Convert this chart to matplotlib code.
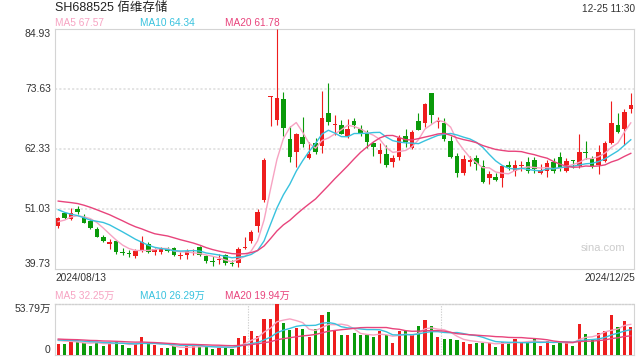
import numpy as np
import pandas as pd
import matplotlib
matplotlib.use("Agg")
import matplotlib.pyplot as plt

plt.rcParams['font.family'] = ['Liberation Sans', 'Noto Sans CJK SC', 'DejaVu Sans']

# ---------------- data ----------------
title = "SH688525 佰维存储"
timestamp = "12-25 11:30"
start_label = "2024/08/13"
end_label = "2024/12/25"

opens = [47.94, 50.39, 49.26, 51.08, 49.64, 48.89, 47.32, 45.87, 44.44, 45.06,
         42.95, 42.80, 42.23, 43.23, 44.44, 42.93, 42.99, 43.50, 43.68, 42.20,
         42.42, 42.90, 43.87, 42.27, 41.25, 41.50, 42.37, 40.93, 40.86, 43.70,
         45.12, 47.92, 52.86, 72.20, 67.85, 71.80, 64.27, 61.88, 64.70, 60.75,
         63.46, 63.00, 69.23, 66.90, 66.90, 64.89, 67.60, 66.10, 65.21, 63.46,
         61.50, 61.45, 59.99, 60.94, 64.84, 62.63, 67.66, 67.34, 72.99, 67.50,
         67.23, 63.95, 61.07, 57.92, 60.00, 60.63, 59.18, 56.98, 57.17, 56.98,
         59.37, 58.30, 59.20, 60.00, 60.30, 57.92, 58.30, 60.00, 60.84, 58.30,
         60.30, 59.18, 61.88, 60.50, 59.37, 60.18, 63.57, 66.91, 66.15, 69.92]
highs = [49.64, 50.60, 51.22, 51.65, 50.14, 49.20, 47.64, 46.20, 45.44, 45.20,
         43.80, 43.40, 43.60, 46.06, 44.93, 43.80, 43.87, 43.90, 43.90, 42.90,
         43.60, 43.60, 44.10, 42.50, 42.20, 42.60, 42.60, 41.50, 43.99, 45.75,
         47.13, 51.08, 60.70, 72.43, 84.93, 73.18, 66.70, 65.40, 68.36, 63.65,
         64.40, 73.37, 74.76, 68.80, 67.90, 68.04, 68.30, 66.90, 66.00, 63.76,
         63.46, 63.14, 61.20, 65.02, 66.10, 65.90, 69.23, 70.99, 72.99, 68.50,
         68.23, 64.80, 61.58, 61.20, 61.00, 61.30, 60.30, 58.23, 57.90, 59.37,
         60.10, 60.30, 60.10, 60.80, 60.90, 59.60, 60.30, 60.60, 61.88, 60.60,
         60.35, 65.21, 63.95, 61.00, 63.14, 63.90, 71.48, 69.23, 69.86, 72.99]
lows = [47.60, 49.20, 49.00, 50.14, 48.50, 47.40, 45.76, 44.90, 43.61, 42.70,
        42.37, 42.10, 41.90, 43.00, 42.80, 42.50, 42.60, 42.90, 42.20, 41.60,
        41.60, 42.40, 42.20, 40.90, 40.40, 40.80, 40.60, 40.30, 40.16, 43.60,
        44.63, 46.70, 52.39, 66.78, 66.91, 64.90, 59.99, 59.05, 62.82, 60.50,
        61.50, 61.58, 66.91, 64.98, 65.20, 64.40, 66.30, 64.80, 62.50, 61.07,
        59.70, 59.05, 59.00, 60.32, 62.80, 62.30, 65.97, 66.59, 67.23, 66.30,
        63.95, 60.60, 57.06, 57.50, 59.20, 58.50, 55.93, 55.86, 56.40, 55.17,
        58.40, 57.30, 58.30, 57.90, 57.80, 57.60, 57.20, 57.90, 58.20, 58.00,
        58.80, 58.75, 60.43, 58.90, 57.68, 59.90, 63.33, 65.34, 63.14, 69.10]
closes = [49.33, 49.45, 50.28, 50.52, 48.51, 47.56, 45.87, 45.06, 44.81, 42.93,
          42.80, 42.60, 43.23, 44.81, 42.99, 43.55, 43.68, 43.20, 42.48, 42.37,
          43.18, 43.00, 42.42, 41.20, 41.10, 41.65, 40.97, 40.67, 43.55, 43.90,
          46.81, 50.55, 60.39, 72.43, 71.93, 66.40, 60.94, 65.16, 63.27, 61.45,
          61.82, 68.23, 67.53, 67.10, 65.30, 66.15, 67.00, 65.27, 63.65, 62.82,
          62.14, 59.37, 60.75, 64.52, 63.76, 65.65, 65.97, 70.81, 68.73, 67.70,
          64.33, 60.94, 57.81, 60.50, 60.30, 59.50, 56.23, 57.68, 56.55, 59.18,
          58.94, 59.37, 59.35, 58.30, 58.57, 58.43, 59.80, 58.30, 58.80, 60.18,
          60.20, 61.88, 61.58, 59.18, 61.88, 63.57, 67.34, 65.65, 69.30, 70.67]
# volumes in 万 shares
volumes = [11.5, 11.5, 15.1, 13.6, 12.6, 10.0, 14.3, 10.0, 13.6, 13.6,
           10.8, 7.9, 11.5, 19.4, 11.5, 10.8, 7.9, 7.9, 9.3, 5.4,
           10.0, 10.0, 9.3, 10.0, 6.5, 7.9, 7.9, 6.5, 17.9, 19.7,
           25.8, 20.4, 37.7, 38.7, 53.79, 34.4, 26.9, 28.7, 28.0, 18.6,
           28.0, 42.0, 45.2, 26.9, 21.5, 21.5, 23.7, 20.8, 21.5, 18.6,
           25.8, 20.8, 12.9, 25.8, 25.1, 20.8, 30.5, 36.9, 30.5, 18.6,
           17.2, 17.2, 15.8, 14.3, 11.5, 12.9, 12.9, 12.9, 9.0, 14.3,
           13.6, 17.2, 12.6, 13.6, 17.2, 10.0, 15.1, 10.8, 14.3, 13.6,
           10.0, 33.3, 22.6, 17.2, 23.7, 25.8, 42.0, 29.4, 35.9, 29.4]
# sessions before the window (estimated from where the MA lines start)
prev_closes = [52.5, 53.0, 54.0, 54.8, 55.5, 55.0, 54.6, 54.2, 54.4, 54.0,
               54.5, 53.8, 53.0, 52.6, 52.1, 48.0, 47.3, 49.4, 49.5]
prev_volumes = [18, 19, 17, 20, 18, 17, 19, 16, 18, 17,
                15, 16, 17, 18, 16, 15, 17, 16, 18]

price_ticks = [39.73, 51.03, 62.33, 73.63, 84.93]
vol_ticks = [0, 53.79]
vol_tick_labels = ["0", "53.79万"]
ma_windows = [5, 10, 20]
price_ma_labels = ["MA5 67.57", "MA10 64.34", "MA20 61.78"]
vol_ma_labels = ["MA5 32.25万", "MA10 26.29万", "MA20 19.94万"]

# ---------------- style ----------------
RED = '#ee1d1d'
GREEN = '#0a9a0a'
MA_COLORS = ['#f7a3c2', '#38c2de', '#e8447c']
BORDER = '#d4d4d4'
GRID = '#dcdcdc'
TXT = '#333333'

W, H = 640, 360
fig = plt.figure(figsize=(6.4, 3.6), dpi=100)
fig.patch.set_facecolor('white')

def fx(px):
    return px / W

def fy(py):
    return 1 - py / H

L, R = 55, 634
ax = fig.add_axes([fx(L), fy(269.3), fx(R - L), (269.3 - 29.3) / H])
vax = fig.add_axes([fx(L), fy(355), fx(R - L), (355 - 304.3) / H])

n = len(closes)
x = np.arange(n)
o = np.array(opens); c = np.array(closes); h = np.array(highs); lo = np.array(lows)
up = c >= o
cols = np.where(up, RED, GREEN)

# ---- price panel ----
ax.vlines(x, lo, h, colors=cols, linewidth=0.8, zorder=3)
body_bottom = np.minimum(o, c)
body_h = np.maximum(np.abs(c - o), 0.12)
ax.bar(x, body_h, bottom=body_bottom, width=0.7, color=cols, linewidth=0, zorder=4)

all_c = pd.Series(prev_closes + closes)
for w, col in zip(ma_windows, MA_COLORS):
    ma = all_c.rolling(w).mean().values[len(prev_closes):]
    ax.plot(x, ma, color=col, linewidth=1.0, zorder=5)

ax.set_xlim(-0.5, n - 0.5)
ax.set_ylim(price_ticks[0], price_ticks[-1])
ax.set_yticks(price_ticks)
ax.set_yticklabels([f"{t:.2f}" for t in price_ticks])
for lbl, va in zip(ax.get_yticklabels(), ['bottom', 'center', 'center', 'center', 'top']):
    lbl.set_va(va)
ax.tick_params(axis='y', length=0, pad=3, labelsize=7.5, labelcolor=TXT)
ax.set_xticks([])
for t in price_ticks[1:-1]:
    ax.axhline(t, color=GRID, linewidth=1.1, linestyle=(0, (1.4, 1.4)), zorder=1)
for s in ax.spines.values():
    s.set_color(BORDER)
    s.set_linewidth(0.8)
ax.text(0.985, 0.09, "sina.com", transform=ax.transAxes, ha='right', va='center',
        fontsize=8, color='#cccccc')

# ---- volume panel ----
vax.bar(x, volumes, width=0.5, color=cols, linewidth=0, zorder=3)
all_v = pd.Series(prev_volumes + volumes)
for w, col in zip(ma_windows, MA_COLORS):
    vma = all_v.rolling(w).mean().values[len(prev_volumes):]
    vax.plot(x, vma, color=col, linewidth=1.0, zorder=4)
vax.set_xlim(-0.5, n - 0.5)
vax.set_ylim(vol_ticks[0], vol_ticks[-1])
vax.set_yticks(vol_ticks)
vax.set_yticklabels(vol_tick_labels)
for lbl, va in zip(vax.get_yticklabels(), ['bottom', 'top']):
    lbl.set_va(va)
vax.tick_params(axis='y', length=0, pad=3, labelsize=7.5, labelcolor=TXT)
vax.set_xticks([])
for k in (n // 3, 2 * n // 3):
    vax.axvline(k - 0.5, color='#d0d0d0', linewidth=0.8, linestyle=(0, (1.2, 1.2)), zorder=1)
for side in ('left', 'right', 'bottom'):
    vax.spines[side].set_color(BORDER)
    vax.spines[side].set_linewidth(0.8)
vax.spines['top'].set_color('#d0d0d0')
vax.spines['top'].set_linewidth(1.0)
vax.spines['top'].set_linestyle((0, (1.2, 1.2)))

# ---- texts ----
fig.text(fx(55), fy(8), title, ha='left', va='center', fontsize=9, color='#222222')
fig.text(fx(635), fy(8.5), timestamp, ha='right', va='center', fontsize=7.2, color=TXT)
for lab, px, col in zip(price_ma_labels, [55, 140, 225], MA_COLORS):
    fig.text(fx(px), fy(23.5), lab, ha='left', va='center', fontsize=7.3, color=col)
for lab, px, col in zip(vol_ma_labels, [55, 140, 225], MA_COLORS):
    fig.text(fx(px), fy(295.5), lab, ha='left', va='center', fontsize=7.3, color=col)
fig.text(fx(55), fy(278), start_label, ha='left', va='center', fontsize=7.3, color=TXT)
fig.text(fx(635), fy(278), end_label, ha='right', va='center', fontsize=7.3, color=TXT)

fig.savefig("out.png", dpi=100, facecolor='white')
